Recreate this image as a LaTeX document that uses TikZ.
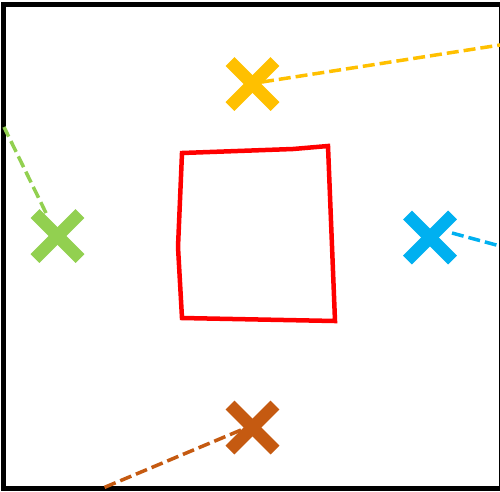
\documentclass[tikz,border=0pt]{standalone}
\definecolor{cyel}{HTML}{FFC000}
\definecolor{cgrn}{HTML}{92D050}
\definecolor{cblu}{HTML}{00B0F0}
\definecolor{cbrn}{HTML}{C55A11}
\begin{document}
\begin{tikzpicture}[x=1pt,y=-1pt,
  xarm/.style={draw=#1, line width=12.5pt, line cap=butt},
  dline/.style={draw=#1, line width=3.5pt, dash pattern=on 12pt off 5pt}]
\useasboundingbox (0,0) rectangle (500,491);
% frame
\draw[line width=5pt] (3.5,4.5) rectangle (501,488.5);
% red quadrilateral
\draw[red, line width=4.5pt, line join=miter] (182,153) -- (293,149) -- (328,146) -- (335,321) -- (182,318) -- (178,247) -- cycle;
% coordinates
\coordinate (ye) at (500,45);
\coordinate (ys) at (262,82);
\coordinate (ge) at (4,127);
\coordinate (gs) at (46,213);
\coordinate (be) at (500,246);
\coordinate (bs) at (452,233);
\coordinate (re) at (103,488);
\coordinate (rs) at (241,430);
% dashed lines
\draw[dline=cyel] (ys) -- (ye);
\draw[dline=cgrn] (gs) -- (ge);
\draw[dline=cblu] (bs) -- (be);
\draw[dline=cbrn] (rs) -- (re);
% crosses
\foreach \n/\c/\px/\py in {xy/cyel/252.5/84, xg/cgrn/57.5/236, xb/cblu/430/237.5, xr/cbrn/252.5/427.5}{
  \coordinate (\n) at (\px,\py);
  \draw[xarm=\c] ([shift={(-22.5,-22.5)}]\n) -- ([shift={(22.5,22.5)}]\n);
  \draw[xarm=\c] ([shift={(-22.5,22.5)}]\n) -- ([shift={(22.5,-22.5)}]\n);
}
\end{tikzpicture}
\end{document}
